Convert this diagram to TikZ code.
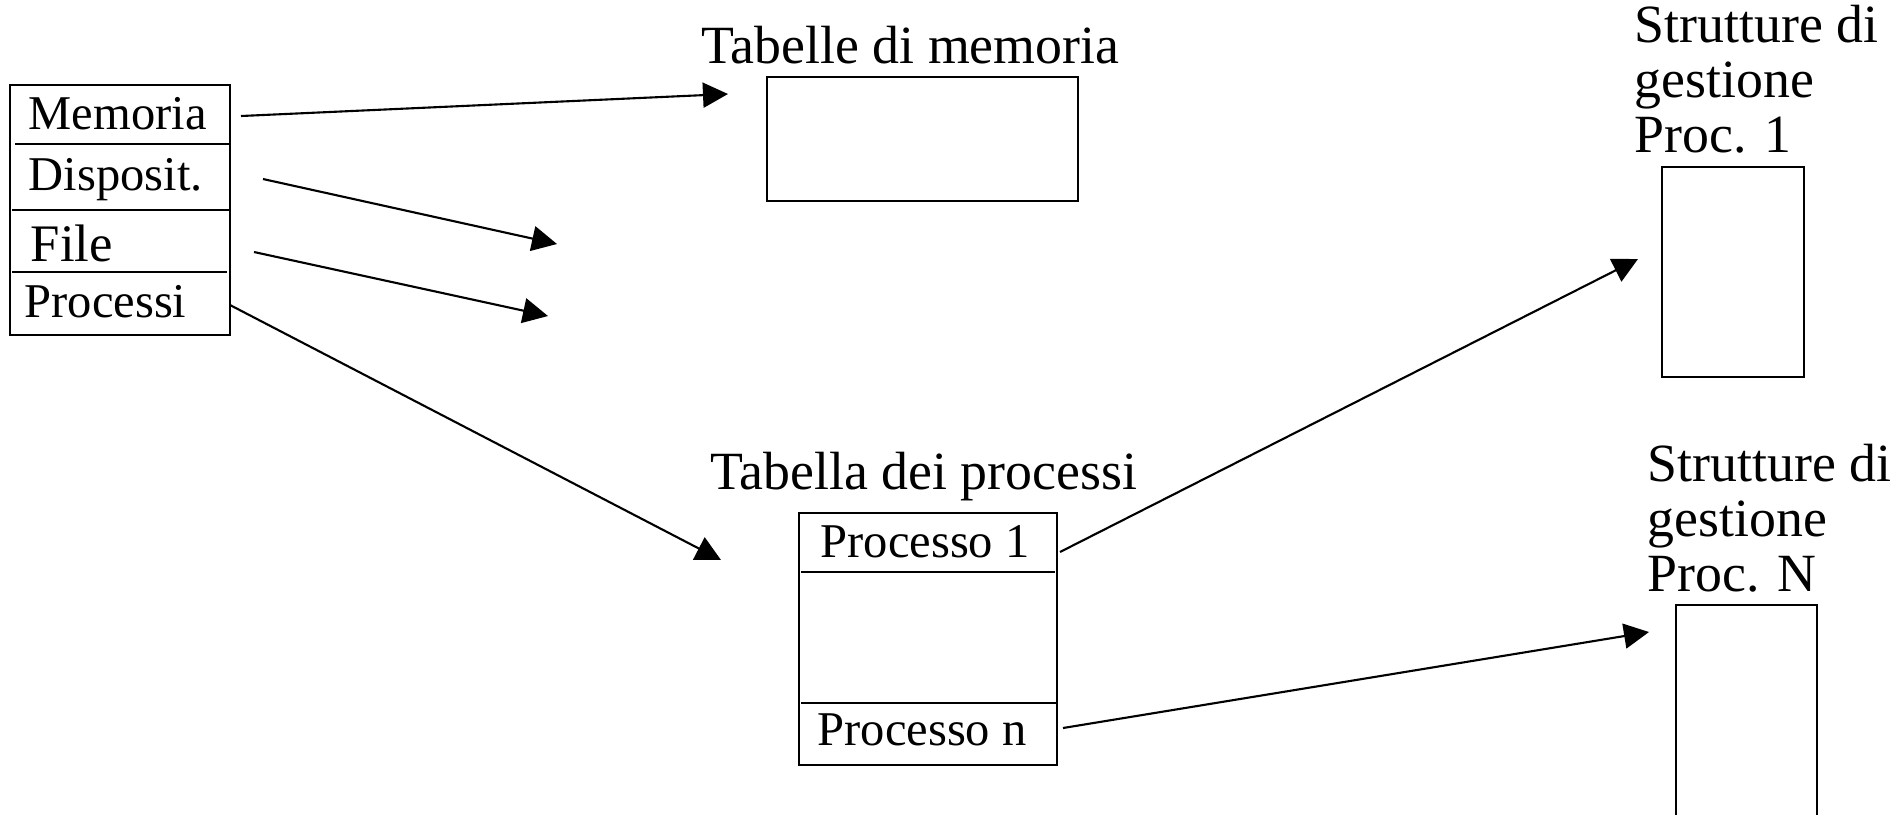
\documentclass[tikz,border=0pt]{standalone}
\usepackage{fontspec}
\setmainfont{Liberation Serif}
\usetikzlibrary{arrows.meta}
\tikzset{
  lbl/.style={font=\fontsize{15.3}{15.6}\selectfont, inner sep=0pt, anchor=base west, align=left},
  cell/.style={font=\fontsize{13.8}{16}\selectfont, inner sep=0pt, anchor=base west},
  bigcell/.style={font=\fontsize{15}{16}\selectfont, inner sep=0pt, anchor=base west},
  box/.style={draw, line width=0.6pt, inner sep=0pt, anchor=north west},
  sep/.style={line width=0.7pt},
  arr/.style={-{Triangle[length=0.25cm,width=0.25cm]}, line width=0.6pt}
}
\begin{document}
\begin{tikzpicture}[x=0.01cm, y=-0.01cm]
\useasboundingbox (0,0) rectangle (1902,814);
% left box
\node[box, minimum width=2.20cm, minimum height=2.50cm] (left) at (9,84) {};
\draw[sep] (15,144) -- (229,144);
\draw[sep] (12,210) -- (229,210);
\draw[sep] (12,272) -- (227,272);
\node[cell] (tmem) at (28,129) {Memoria};
\node[cell] (tdis) at (28,190) {Disposit.};
\node[bigcell] (tfile) at (30,261) {File};
\node[cell] (tproc) at (24,317) {Processi};
% memory tables
\node[lbl] (lmem) at (701,63) {Tabelle di memoria};
\node[box, minimum width=3.11cm, minimum height=1.24cm] (memtab) at (766,76) {};
% process table
\node[lbl] (lproc) at (710,489) {Tabella dei processi};
\node[box, minimum width=2.58cm, minimum height=2.52cm] (proctab) at (798,512) {};
\draw[sep] (801,572) -- (1055,572);
\draw[sep] (801,703) -- (1057,703);
\node[cell] (p1) at (820,557) {Processo 1};
\node[cell] (pn) at (817,745) {Processo n};
% process 1 structures (base anchor = last line)
\node[lbl] (l1) at (1634,152) {Strutture di\\gestione\\Proc. 1};
\node[box, minimum width=1.42cm, minimum height=2.10cm] (s1) at (1661,166) {};
% process N structures
\node[lbl] (lN) at (1647,591) {Strutture di\\gestione\\Proc. N};
\coordinate (sNbl) at (1676,830);
\coordinate (sNtl) at (1676,605);
\coordinate (sNtr) at (1817,605);
\coordinate (sNbr) at (1817,830);
\draw[line width=0.6pt] (sNbl) -- (sNtl) -- (sNtr) -- (sNbr);
% arrows
\coordinate (a1s) at (241,116); \coordinate (a1e) at (728,94);
\coordinate (a2s) at (263,179); \coordinate (a2e) at (557,244);
\coordinate (a3s) at (254,252); \coordinate (a3e) at (548,316);
\coordinate (a4s) at (230,305); \coordinate (a4e) at (721,560);
\coordinate (a5s) at (1060,552); \coordinate (a5e) at (1638,259);
\coordinate (a6s) at (1063,728); \coordinate (a6e) at (1649,632);
\draw[arr] (a1s) -- (a1e);
\draw[arr] (a2s) -- (a2e);
\draw[arr] (a3s) -- (a3e);
\draw[arr] (a4s) -- (a4e);
\draw[arr] (a5s) -- (a5e);
\draw[arr] (a6s) -- (a6e);
\end{tikzpicture}
\end{document}
